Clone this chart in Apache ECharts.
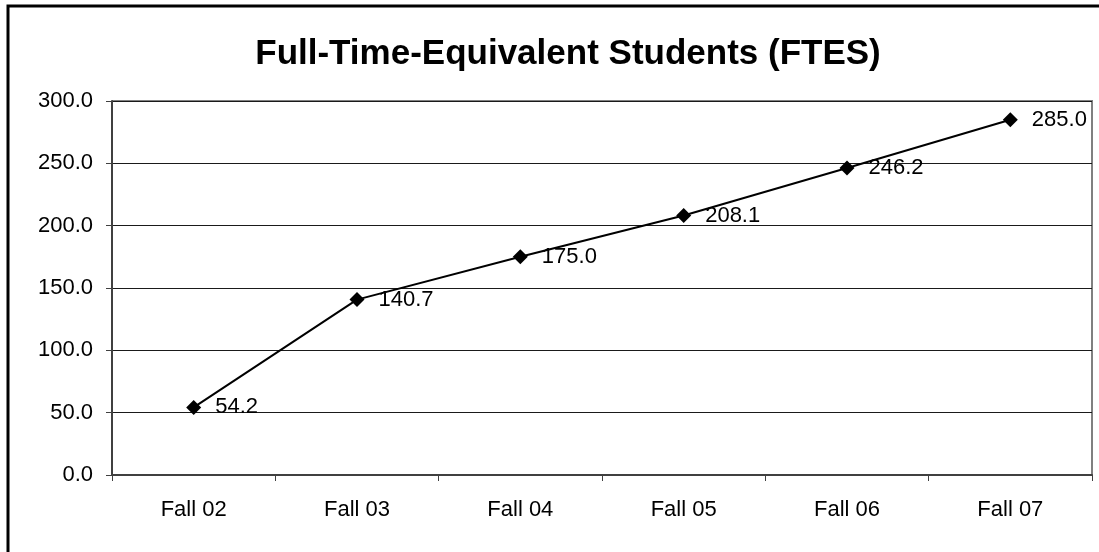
<!DOCTYPE html>
<html>
<head>
<meta charset="utf-8">
<script src="https://cdn.jsdelivr.net/npm/echarts@6/dist/echarts.min.js"></script>
<style>
  html, body { margin: 0; padding: 0; background: #fff; }
  #chart { width: 1099px; height: 552px; }
</style>
</head>
<body>
<div id="chart"></div>
<script>
// categories and values
const terms = ['Fall 02', 'Fall 03', 'Fall 04', 'Fall 05', 'Fall 06', 'Fall 07'];
const ftes = [54.2, 140.7, 175.0, 208.1, 246.2, 285.0];

const chart = echarts.init(document.getElementById('chart'));
const font = 'Liberation Sans, Arial, sans-serif';

chart.setOption({
  animation: false,
  textStyle: { fontFamily: font },
  title: {
    text: 'Full-Time-Equivalent Students (FTES)',
    left: 563,
    textAlign: 'center',
    top: 32,
    textStyle: { fontSize: 35, fontWeight: 'bold', color: '#000', fontFamily: font }
  },
  graphic: [
    {
      type: 'rect',
      shape: { x: 8, y: 6, width: 1200, height: 700 },
      style: { fill: 'none', stroke: '#000', lineWidth: 3 },
      silent: true
    },
    {
      // gray plot frame on top and right
      type: 'polyline',
      shape: { points: [[112, 101], [1092, 101], [1092, 475]] },
      style: { stroke: '#808080', lineWidth: 2, fill: 'none' },
      silent: true
    }
  ],
  grid: { left: 112, top: 101, width: 980, height: 374, containLabel: false },
  xAxis: {
    type: 'category',
    data: terms,
    boundaryGap: true,
    axisLine: { lineStyle: { color: '#404040', width: 2 } },
    axisTick: { show: true, length: 6, alignWithLabel: false, lineStyle: { color: '#404040' } },
    axisLabel: { color: '#000', fontSize: 22, margin: 24 },
    splitLine: { show: false }
  },
  yAxis: {
    type: 'value',
    min: 0,
    max: 300,
    interval: 50,
    axisLine: { show: true, lineStyle: { color: '#404040', width: 2 } },
    axisTick: { show: true, length: 6, lineStyle: { color: '#404040' } },
    axisLabel: {
      color: '#000',
      fontSize: 22,
      margin: 19,
      formatter: v => v.toFixed(1)
    },
    splitLine: { show: true, lineStyle: { color: '#1a1a1a', width: 1 } }
  },
  series: [{
    type: 'line',
    data: ftes,
    symbol: 'diamond',
    symbolSize: 15,
    itemStyle: { color: '#000' },
    lineStyle: { color: '#000', width: 2 },
    label: {
      show: true,
      position: 'right',
      distance: 14,
      color: '#000',
      fontSize: 22,
      formatter: p => p.value.toFixed(1)
    }
  }]
});
</script>
</body>
</html>
